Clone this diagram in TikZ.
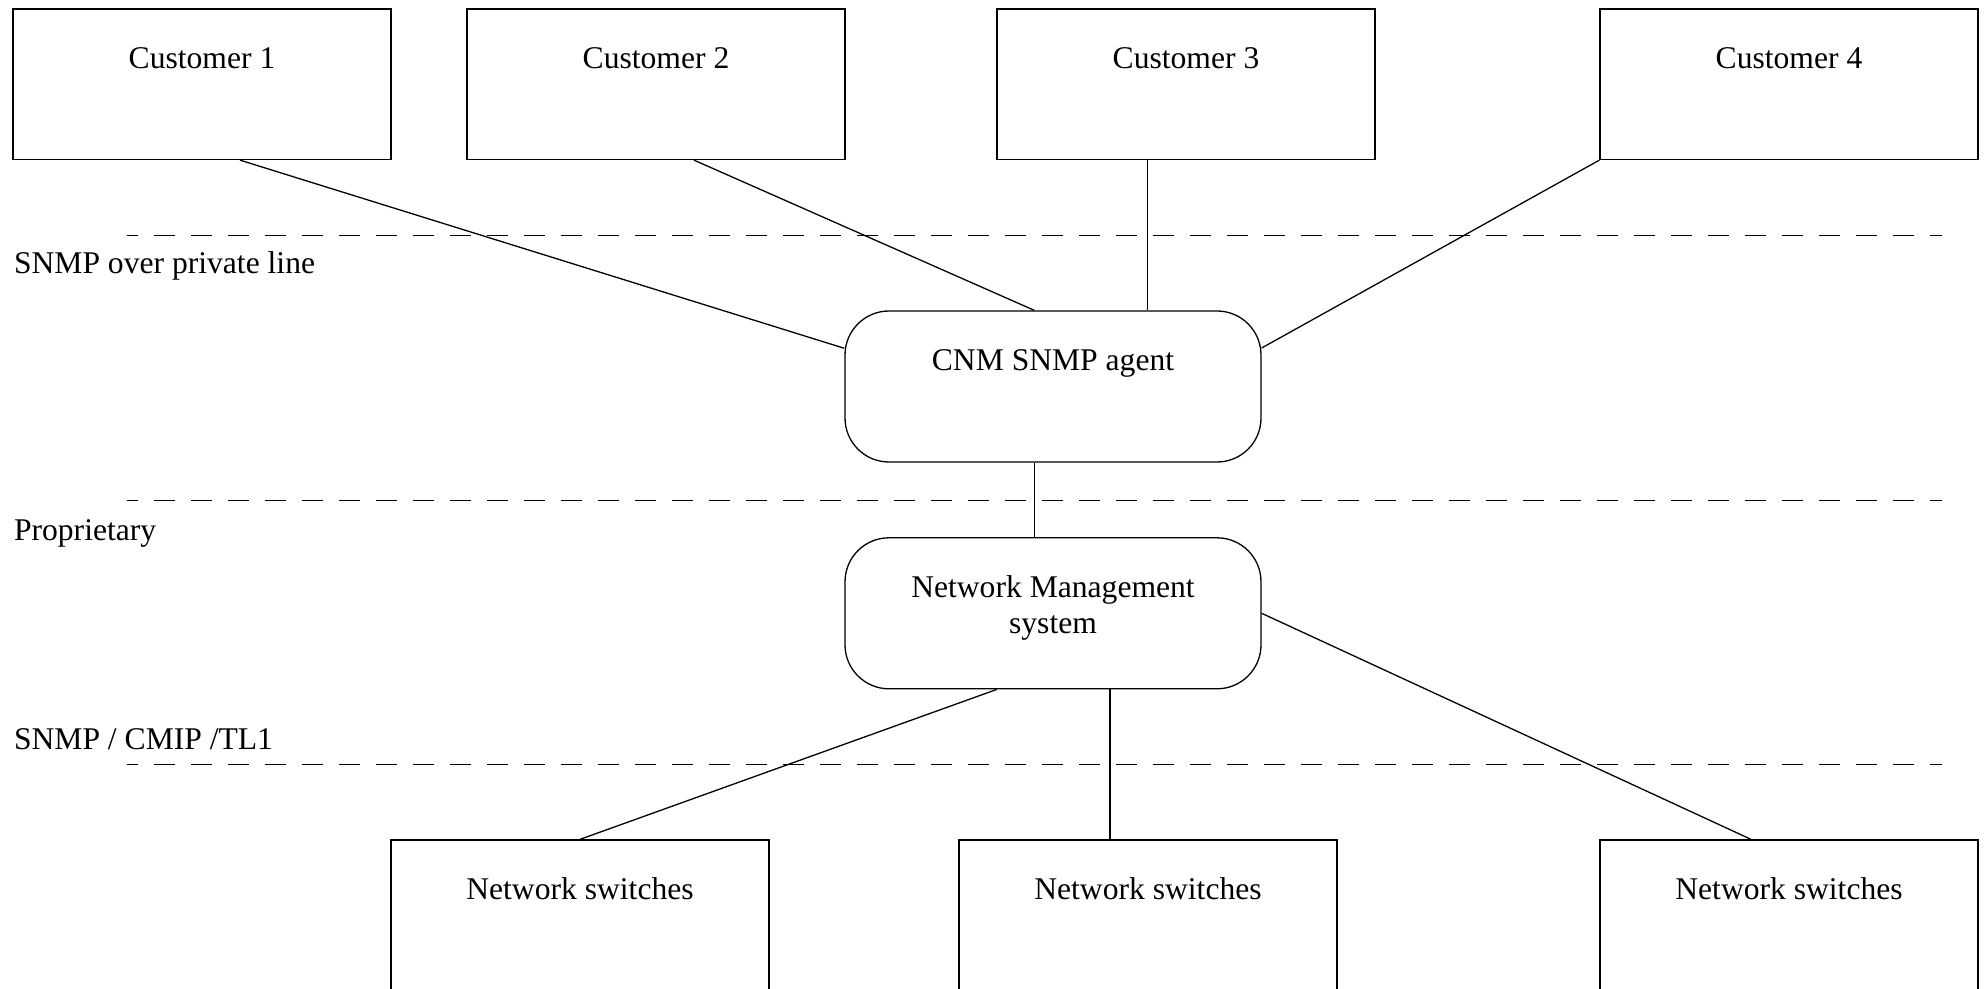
\documentclass[tikz,border=0pt]{standalone}
\usepackage{fontspec}
\setmainfont{Liberation Serif}
\begin{document}
\begin{tikzpicture}[x=0.5pt,y=-0.5pt, line width=0.65pt,
  lbl/.style={font=\fontsize{15.8pt}{18.3pt}\selectfont},
  sqbox/.style={draw, rectangle, minimum width=189pt, minimum height=75.25pt, inner sep=0pt},
  rbox/.style={draw, rectangle, rounded corners=22pt, minimum width=208pt, minimum height=75.5pt, inner sep=0pt},
  boxtext/.style={lbl, anchor=base, yshift=-30pt, align=center},
  sidetext/.style={lbl, anchor=base west, inner sep=0pt},
  sep/.style={dash pattern=on 10.25pt off 8.25pt, dash phase=4.75pt}]
\useasboundingbox (0,0) rectangle (1986,989);
\clip (0,0) rectangle (1986,989);

% customers
\node[sqbox, label={[boxtext]north:Customer 1}] (c1) at (202,84.25) {};
\node[sqbox, label={[boxtext]north:Customer 2}] (c2) at (656,84.25) {};
\node[sqbox, label={[boxtext]north:Customer 3}] (c3) at (1186,84.25) {};
\node[sqbox, label={[boxtext]north:Customer 4}] (c4) at (1789,84.25) {};

% management
\node[rbox, label={[boxtext]north:CNM SNMP agent}] (cnm) at (1053,386.5) {};
\node[rbox, label={[boxtext, yshift=-18.3pt]north:Network Management\\system}] (nms) at (1053,613.3) {};

% switches
\node[sqbox, label={[boxtext]north:Network switches}] (ns1) at (580,915.25) {};
\node[sqbox, label={[boxtext]north:Network switches}] (ns2) at (1148,915.25) {};
\node[sqbox, label={[boxtext]north:Network switches}] (ns3) at (1789,915.25) {};

% separators
\coordinate (s1a) at (126.5,235.3); \coordinate (s1b) at (1942,235.3);
\coordinate (s2a) at (126.5,500.3); \coordinate (s2b) at (1942,500.3);
\coordinate (s3a) at (126.5,764.3); \coordinate (s3b) at (1942,764.3);
\draw[sep] (s1a) -- (s1b);
\draw[sep] (s2a) -- (s2b);
\draw[sep] (s3a) -- (s3b);

\node[sidetext] (t1) at (13.4,273.5) {SNMP over private line};
\node[sidetext] (t2) at (13.4,540) {Proprietary};
\node[sidetext] (t3) at (13.4,749) {SNMP / CMIP /TL1};

% connectors
\draw ([xshift=19pt]c1.south) -- ([yshift=19.1pt]cnm.west);
\draw ([xshift=19pt]c2.south) -- ([xshift=-9.35pt]cnm.north);
\draw ([xshift=-19.25pt]c3.south) -- ([xshift=47.25pt]cnm.north);
\draw (c4.south west) -- ([yshift=19.25pt]cnm.east);
\draw ([xshift=-9.35pt]cnm.south) -- ([xshift=-9.35pt]nms.north);
\draw ([xshift=-28.15pt]nms.south) -- (ns1.north);
\draw ([xshift=28.5pt]nms.south) -- ([xshift=-19pt]ns2.north);
\draw (nms.east) -- ([xshift=-19pt]ns3.north);
\end{tikzpicture}
\end{document}
